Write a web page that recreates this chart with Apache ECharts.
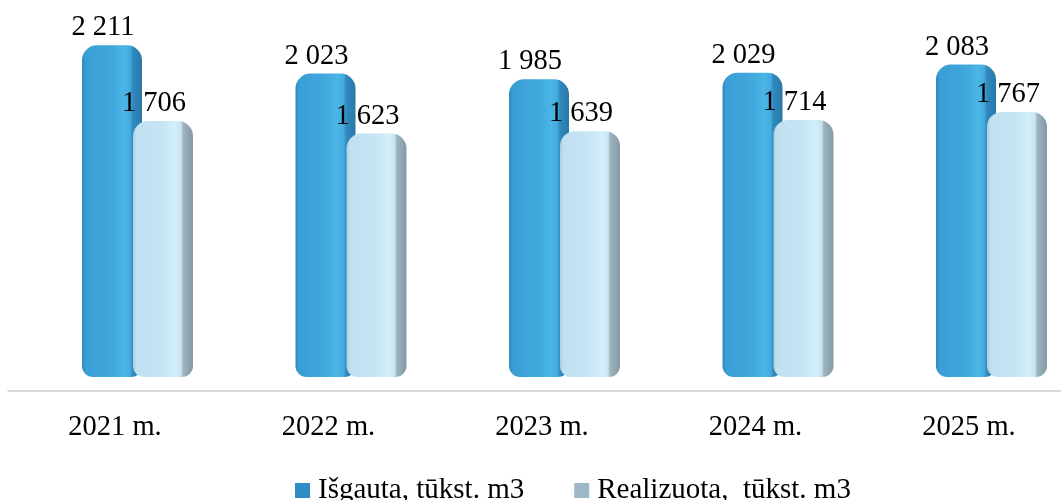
<!DOCTYPE html>
<html>
<head>
<meta charset="utf-8">
<script src="https://cdn.jsdelivr.net/npm/echarts@6/dist/echarts.min.js"></script>
<style>html,body{margin:0;padding:0;background:#fff;overflow:hidden;width:1061px;height:500px}#c{width:1100px;height:500px}</style>
</head>
<body>
<div id="c"></div>
<script>
const categories = ['2021 m.', '2022 m.', '2023 m.', '2024 m.', '2025 m.'];
const extracted = [2211, 2023, 1985, 2029, 2083];
const sold = [1706, 1623, 1639, 1714, 1767];
const seriesNames = ['Išgauta, tūkst. m3', 'Realizuota,  tūkst. m3'];

const FONT = '"Liberation Serif", "Times New Roman", serif';
const fmt = p => {
  const v = p.value;
  return Math.floor(v / 1000) + ' ' + String(v % 1000).padStart(3, '0');
};
const grad = stops => new echarts.graphic.LinearGradient(0, 0, 1, 0,
  stops.map(s => ({offset: s[0], color: s[1]})));

const blueGrad = grad([[0,'#2e88bf'],[0.06,'#3a9ed4'],[0.5,'#40a8dc'],[0.7,'#4bb6e6'],[0.8,'#44abdf'],[0.85,'#3089bd'],[1,'#2a78a6']]);
const lightGrad = grad([[0,'#aecddd'],[0.06,'#c0e0f1'],[0.5,'#c6e6f6'],[0.7,'#d5effb'],[0.8,'#c8e4f1'],[0.84,'#9db4bf'],[1,'#8399a5']]);

const chart = echarts.init(document.getElementById('c'), null, {renderer: 'canvas'});
chart.setOption({
  animation: false,
  legend: {
    left: 290, top: 471,
    itemWidth: 15, itemHeight: 15, itemGap: 50,
    icon: 'rect',
    textStyle: {fontFamily: FONT, fontSize: 29, color: '#000', padding: [0, 0, 0, 3]},
    data: [
      {name: seriesNames[0], itemStyle: {color: '#2f8cc4'}},
      {name: seriesNames[1], itemStyle: {color: '#9cb8c6'}}
    ]
  },
  grid: [
    {left: 30.75, width: 1067.5, top: 2, bottom: 123},
    {left: 8.25, width: 1067.5, top: 100, bottom: 109}
  ],
  xAxis: [
    {gridIndex: 0, type: 'category', data: categories, show: false},
    {gridIndex: 1, type: 'category', data: categories,
     axisLine: {show: true, lineStyle: {color: '#d9d9d9', width: 2}},
     axisTick: {show: false},
     axisLabel: {fontFamily: FONT, fontSize: 28.5, color: '#000', margin: 22}}
  ],
  yAxis: [
    {gridIndex: 0, type: 'value', min: 0, max: 2500, show: false},
    {gridIndex: 1, type: 'value', show: false}
  ],
  series: [
    {
      name: seriesNames[0], type: 'bar', xAxisIndex: 0, yAxisIndex: 0,
      data: extracted, barWidth: 60, barGap: '-15%',
      itemStyle: {color: blueGrad, borderRadius: [15, 15, 11, 11]},
      label: {show: true, position: 'top', distance: 3, offset: [-9, 0],
              formatter: fmt, fontFamily: FONT, fontSize: 28.5, color: '#000'}
    },
    {
      name: seriesNames[1], type: 'bar', xAxisIndex: 0, yAxisIndex: 0,
      data: sold, barWidth: 60,
      itemStyle: {color: lightGrad, borderRadius: [15, 15, 11, 11]},
      label: {show: true, position: 'top', distance: 3, offset: [-9, 0],
              formatter: fmt, fontFamily: FONT, fontSize: 28.5, color: '#000'}
    }
  ]
});
</script>
</body>
</html>
